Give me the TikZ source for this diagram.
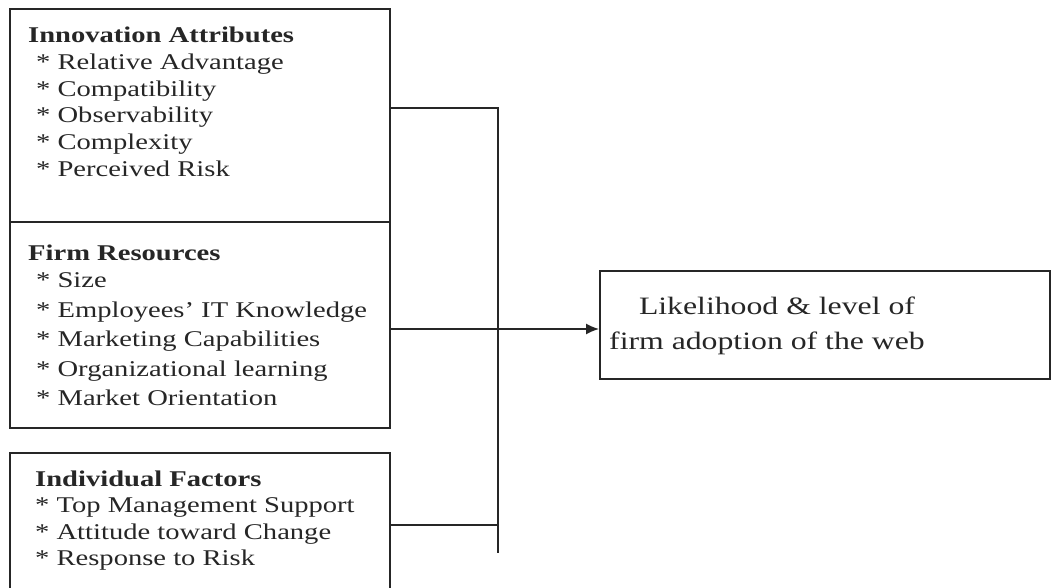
\documentclass[tikz,border=0pt]{standalone}
\usepackage{fontspec}
\setmainfont{Liberation Serif}[FakeStretch=1.27]
\usetikzlibrary{arrows.meta}
\definecolor{ink}{HTML}{262626}
\begin{document}
\begin{tikzpicture}[x=1pt,y=-1pt,
  panel/.style={draw=ink,line width=1.8pt,inner sep=0pt},
  wire/.style={draw=ink,line width=1.8pt},
  item/.style={anchor=base west,inner sep=0pt,text=ink,
    font=\fontsize{22.5}{27}\selectfont},
  head/.style={item,font=\fontsize{22.5}{27}\selectfont\bfseries},
  goaltext/.style={anchor=base,inner sep=0pt,text=ink,
    font=\fontsize{25}{33}\selectfont}]
\useasboundingbox (0,0) rectangle (1053,588);

% factor boxes
\node[panel,minimum width=380pt,minimum height=213pt] (innov) at (200,115.5) {};
\node[panel,minimum width=380pt,minimum height=206pt] (firm)  at (200,325) {};
\node[panel,minimum width=380pt,minimum height=139pt] (indiv) at (200,522.5) {};
% outcome box
\node[panel,minimum width=450pt,minimum height=108pt] (goal)  at (825,325) {};

% innovation attributes
\node[head] (ia0) at (28,43)  {Innovation Attributes};
\node[item] (ia1) at (36,70)  {* Relative Advantage};
\node[item] (ia2) at (36,97)  {* Compatibility};
\node[item] (ia3) at (36,123) {* Observability};
\node[item] (ia4) at (36,150) {* Complexity};
\node[item] (ia5) at (36,177) {* Perceived Risk};

% firm resources
\node[head] (fr0) at (28,261)  {Firm Resources};
\node[item] (fr1) at (36,288)  {* Size};
\node[item] (fr2) at (36,317)  {* Employees' IT Knowledge};
\node[item] (fr3) at (36,346)  {* Marketing Capabilities};
\node[item] (fr4) at (36,376)  {* Organizational learning};
\node[item] (fr5) at (36,405)  {* Market Orientation};

% individual factors
\node[head] (if0) at (35,486) {Individual Factors};
\node[item] (if1) at (35,512) {* Top Management Support};
\node[item] (if2) at (35,539) {* Attitude toward Change};
\node[item] (if3) at (35,565) {* Response to Risk};

% outcome text
\node[goaltext] (g1) at (777,315) {Likelihood \& level of};
\node[goaltext] (g2) at (767,349) {firm adoption of the web};

% connectors
\coordinate (busTop)  at (498,108);
\coordinate (busBot)  at (498,553);
\coordinate (feedMid) at (498,329);
\coordinate (feedLow) at (498,525);
\draw[wire] (innov.east |- busTop) -- (busTop) -- (busBot);
\draw[wire] (indiv.east |- feedLow) -- (feedLow);
\draw[wire,-{Latex[length=13pt,width=11pt]}] (firm.east |- feedMid) -- (goal.west |- feedMid);
\end{tikzpicture}
\end{document}
